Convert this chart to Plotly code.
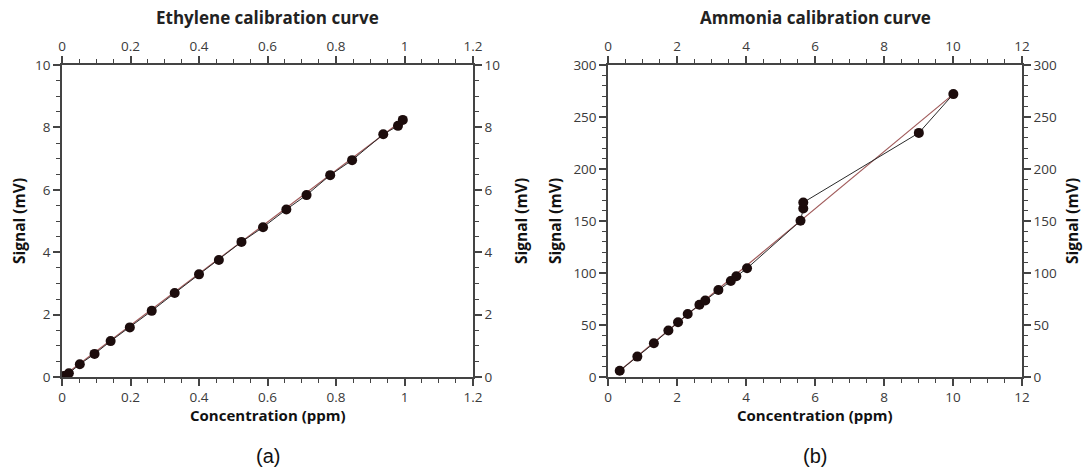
import plotly.graph_objects as go

# Ethylene calibration data (ppm, mV)
eth_conc = [0.005, 0.02, 0.052, 0.095, 0.142, 0.198, 0.262, 0.329, 0.400, 0.458,
            0.524, 0.587, 0.655, 0.714, 0.783, 0.847, 0.938, 0.981, 0.995]
eth_signal = [0.03, 0.12, 0.41, 0.74, 1.15, 1.59, 2.12, 2.69, 3.29, 3.75,
              4.33, 4.80, 5.37, 5.83, 6.47, 6.95, 7.78, 8.05, 8.24]
eth_fit_x = [0.0, 0.995]
eth_fit_y = [0.0, 8.24]

# Ammonia calibration data (ppm, mV)
nh3_conc = [0.34, 0.85, 1.33, 1.75, 2.03, 2.31, 2.65, 2.82, 3.20, 3.56, 3.72, 4.03,
            5.58, 5.66, 5.66, 9.01, 10.01]
nh3_signal = [6, 19.6, 32.5, 44.7, 52.7, 60.5, 69.4, 73.6, 83.6, 92.3, 96.8, 104.5,
              150.2, 162, 167.8, 234.7, 272]
nh3_fit_x = [0.34, 10.01]
nh3_fit_y = [6, 272]

titles = ["Ethylene calibration curve", "Ammonia calibration curve"]
x_title = "Concentration (ppm)"
y_title = "Signal (mV)"
panel_labels = ["(a)", "(b)"]

FONT = "Open Sans"
AX = "#444444"
MK = "#1c0c0c"
FIT = "#a05a5a"

fig = go.Figure()

def add_panel(xs, ys, fx, fy, xa, ya, xa_top, ya_right):
    fig.add_trace(go.Scatter(x=fx, y=fy, mode="lines", line=dict(color=FIT, width=1.2),
                             xaxis=xa, yaxis=ya, hoverinfo="skip", showlegend=False))
    fig.add_trace(go.Scatter(x=xs, y=ys, mode="lines+markers",
                             line=dict(color="#2a2a2a", width=1),
                             marker=dict(color=MK, size=10),
                             xaxis=xa, yaxis=ya, showlegend=False))
    # invisible trace so the mirrored (top/right) labelled axes are drawn
    fig.add_trace(go.Scatter(x=xs, y=ys, mode="markers", marker=dict(opacity=0),
                             xaxis=xa_top, yaxis=ya_right, hoverinfo="skip", showlegend=False))

add_panel(eth_conc, eth_signal, eth_fit_x, eth_fit_y, "x", "y", "x3", "y3")
add_panel(nh3_conc, nh3_signal, nh3_fit_x, nh3_fit_y, "x2", "y2", "x4", "y4")

W, H = 1084, 470
dom1 = [62 / W, 473 / W]
dom2 = [608 / W, 1022 / W]
ydom = [1 - 377 / H, 1 - 65 / H]

def axis(rng, dtick, mdtick, **kw):
    d = dict(range=rng, dtick=dtick, tick0=0, showline=True, linecolor=AX, linewidth=1.5,
             ticks="outside", ticklen=7, tickwidth=1.5, tickcolor=AX, automargin=False,
             minor=dict(dtick=mdtick, tick0=0, ticks="outside", ticklen=4, tickwidth=1.2,
                        tickcolor=AX, showgrid=False),
             showgrid=False, zeroline=False,
             tickfont=dict(family=FONT, size=13.5, color="#3a3a3a"))
    d.update(kw)
    return d

fig.update_layout(
    width=W, height=H,
    margin=dict(l=0, r=0, t=0, b=0, autoexpand=False),
    paper_bgcolor="white", plot_bgcolor="white",
    xaxis=axis([0, 1.2], 0.2, 0.05, domain=dom1, anchor="y"),
    yaxis=axis([0, 10], 2, 0.5, domain=ydom, anchor="x"),
    xaxis3=axis([0, 1.2], 0.2, 0.05, overlaying="x", side="top", anchor="y"),
    yaxis3=axis([0, 10], 2, 0.5, overlaying="y", side="right", anchor="x"),
    xaxis2=axis([0, 12], 2, 0.5, domain=dom2, anchor="y2"),
    yaxis2=axis([0, 300], 50, 10, domain=ydom, anchor="x2"),
    xaxis4=axis([0, 12], 2, 0.5, overlaying="x2", side="top", anchor="y2"),
    yaxis4=axis([0, 300], 50, 10, overlaying="y2", side="right", anchor="x2"),
)

ann = []
centers = [(dom1[0] + dom1[1]) / 2, (dom2[0] + dom2[1]) / 2]
ytitle_x = [(19, 521), (555, 1072)]

def a(text, x, y, size, family=FONT, color="#111", angle=0):
    return dict(text=text, x=x, y=y, xref="paper", yref="paper", xanchor="center",
                yanchor="middle", textangle=angle, showarrow=False,
                font=dict(family=family, size=size, color=color))

for i in range(2):
    ann.append(a(f"<b>{titles[i]}</b>", centers[i], 1 - 18 / H, 17, color="#222"))
    ann.append(a(f"<b>{x_title}</b>", centers[i], 1 - 415 / H, 15))
    ann.append(a(panel_labels[i], centers[i], 1 - 456 / H, 20, family="Liberation Sans"))
    for xp in ytitle_x[i]:
        ann.append(a(f"<b>{y_title}</b>", xp / W, (ydom[0] + ydom[1]) / 2, 15.5, angle=-90))
fig.update_layout(annotations=ann)

fig.write_html("out.html", config={"displayModeBar": False},
               post_script="document.body.style.margin='0';")
